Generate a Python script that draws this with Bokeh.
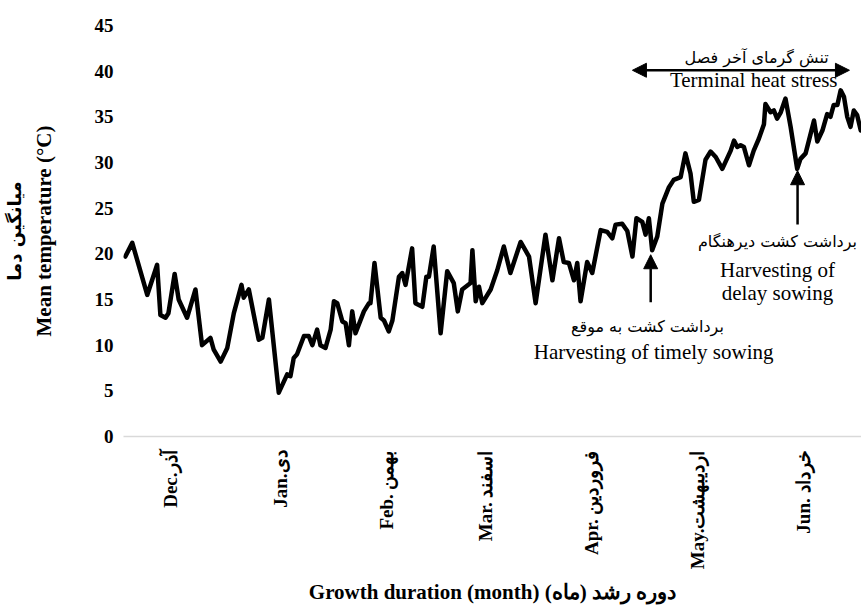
import math
from bokeh.plotting import figure
from bokeh.models import Range1d, FixedTicker, Label, Arrow, NormalHead, LinearAxis
from bokeh.embed import file_html
from bokeh.resources import INLINE

# ---- data ----
day = [0.5, 2.4, 6.5, 9.2, 10.1, 11.5, 12.3, 14.0, 15.1, 17.4, 19.7, 21.5, 23.8, 24.7, 26.6,
       28.4, 30.2, 32.3, 32.9, 34.3, 37.0, 38.0, 39.8, 42.5, 44.8, 45.7, 46.6, 47.5, 49.4, 50.7,
       51.7, 53.0, 53.9, 55.3, 56.7, 57.6, 58.5, 59.9, 60.8, 61.7, 62.6, 63.5, 65.8, 67.2, 67.6,
       68.7, 70.4, 71.3, 72.6, 73.6, 75.4, 76.3, 77.2, 79.0, 79.9, 81.8, 82.9, 83.6, 84.9, 86.8,
       88.6, 90.4, 91.5, 92.7, 95.0, 95.5, 96.4, 97.3, 98.2, 100.5, 102.3, 104.1, 105.9, 108.7,
       111.0, 112.8, 115.5, 117.4, 119.2, 120.5, 121.9, 123.3, 124.2, 125.1, 126.9, 128.3, 130.6,
       132.4, 133.8, 134.7, 136.5, 137.9, 139.3, 140.4, 142.0, 142.9, 143.8, 144.7, 146.1, 147.5,
       149.3, 150.6, 152.5, 153.8, 155.2, 156.1, 157.5, 159.3, 160.7, 162.1, 163.9, 166.2, 167.1,
       168.0, 168.9, 169.8, 171.2, 172.5, 173.9, 175.3, 175.7, 177.1, 178.0, 178.9, 179.9, 181.2,
       182.6, 184.4, 185.3, 186.7, 187.6, 189.0, 189.9, 191.3, 192.6, 193.5, 194.4, 195.4, 196.3,
       197.2, 198.1, 199.0, 199.9, 200.8, 201.8]
temp = [19.7, 21.2, 15.5, 18.8, 13.3, 13.0, 13.5, 17.8, 15.0, 13.0, 16.1, 10.0, 10.8, 9.5, 8.2,
        9.7, 13.5, 16.6, 15.2, 16.1, 10.6, 10.8, 15.0, 4.8, 6.8, 6.6, 8.6, 9.0, 11.0, 11.0,
        10.0, 11.7, 10.0, 9.7, 11.7, 14.8, 14.6, 12.6, 12.4, 10.0, 13.7, 11.3, 13.7, 14.6, 14.6,
        19.0, 13.0, 12.7, 11.5, 12.7, 17.5, 17.9, 16.6, 20.6, 14.6, 14.2, 17.5, 17.5, 20.8, 11.3,
        18.1, 16.8, 13.7, 16.1, 16.8, 20.4, 14.8, 16.4, 14.6, 16.1, 18.2, 20.8, 17.9, 21.3,
        19.7, 14.6, 22.1, 17.1, 21.7, 19.1, 19.0, 17.1, 19.0, 14.8, 19.1, 17.9, 22.6,
        22.4, 21.7, 23.2, 23.3, 22.5, 19.7, 23.9, 23.5, 22.1, 23.9, 20.4, 21.9, 25.5,
        27.3, 28.1, 28.4, 31.0, 28.8, 25.7, 25.9, 30.3, 31.2, 30.6, 29.3, 31.3, 32.4,
        31.7, 31.9, 31.7, 29.7, 31.3, 32.6, 34.2, 36.4, 35.5, 35.7, 34.8, 35.5, 37.0,
        33.9, 29.3, 30.4, 31.0, 32.4, 34.6, 32.3, 33.5, 35.3, 35.0, 36.3, 36.3, 37.9,
        37.2, 35.0, 33.9, 35.7, 35.2, 33.5]

month_ticks = [13, 43, 72, 99, 128, 157, 186]
month_labels = ["Dec.آذر", "Jan.دی", "Feb. بهمن", "Mar. اسفند", "Apr. فروردین",
                "May.اردیبهشت", "Jun. خرداد"]
y_ticks = [0, 5, 10, 15, 20, 25, 30, 35, 40, 45]

timely_harvest = (144.3, 14.7, 19.9)   # day, arrow start, arrow tip
delay_harvest = (184.5, 23.2, 29.1)
heat_span = (139.3, 198.7, 40.1)

SERIF = "Liberation Serif"
PERSIAN = "DejaVu Sans"

p = figure(width=861, height=607, x_range=Range1d(0, 202.0), y_range=Range1d(0, 45),
           output_backend="svg", toolbar_location=None, title=None,
           min_border_left=123, min_border_right=0, min_border_top=25, min_border_bottom=170)
p.outline_line_color = None
p.grid.visible = False
p.background_fill_color = "white"
p.border_fill_color = "white"

p.line(day, temp, line_color="black", line_width=4.5, line_join="round", line_cap="round")

# y axis
ya = p.yaxis[0]
ya.ticker = FixedTicker(ticks=y_ticks)
ya.axis_line_color = None
ya.major_tick_line_color = None
ya.minor_tick_line_color = None
ya.major_tick_out = 0
ya.major_tick_in = 0
ya.major_label_standoff = 10
ya.major_label_text_font = SERIF
ya.major_label_text_font_style = "bold"
ya.major_label_text_font_size = "19px"
ya.major_label_text_color = "black"
ya.axis_label = "Mean temperature (°C)"
ya.axis_label_standoff = 36
ya.axis_label_text_font = SERIF
ya.axis_label_text_font_style = "bold"
ya.axis_label_text_font_size = "21px"
ya.axis_label_text_color = "black"

# outer left axis carrying only the Persian line of the title
ya2 = LinearAxis(ticker=FixedTicker(ticks=[]), axis_line_color=None,
                 major_tick_line_color=None, minor_tick_line_color=None,
                 major_tick_out=0, major_tick_in=0, major_label_standoff=0,
                 axis_label="میانگین دما", axis_label_standoff=4,
                 axis_label_text_font=PERSIAN, axis_label_text_font_style="bold",
                 axis_label_text_font_size="18px", axis_label_text_color="black")
p.add_layout(ya2, "left")

# x axis
xa = p.xaxis[0]
xa.ticker = FixedTicker(ticks=month_ticks)
xa.major_label_overrides = {t: l for t, l in zip(month_ticks, month_labels)}
xa.axis_line_color = "#d9d9d9"
xa.axis_line_width = 1.3
xa.major_tick_line_color = None
xa.minor_tick_line_color = None
xa.major_tick_out = 0
xa.major_tick_in = 0
xa.major_label_orientation = math.pi / 2
xa.major_label_standoff = 14
xa.major_label_text_font = SERIF
xa.major_label_text_font_style = "bold"
xa.major_label_text_font_size = "19px"
xa.major_label_text_color = "black"
xa.axis_label = "Growth duration (month) دوره رشد (ماه)"
xa.axis_label_standoff = 8
xa.axis_label_text_font = SERIF
xa.axis_label_text_font_style = "bold"
xa.axis_label_text_font_size = "21px"
xa.axis_label_text_color = "black"

# arrows
for (xd, y0, y1) in (timely_harvest, delay_harvest):
    p.add_layout(Arrow(x_start=xd, y_start=y0, x_end=xd, y_end=y1, line_width=2.5,
                       line_color="black",
                       end=NormalHead(size=14, fill_color="black", line_color="black")))
p.add_layout(Arrow(x_start=heat_span[0], y_start=heat_span[2], x_end=heat_span[1],
                   y_end=heat_span[2], line_width=2.5, line_color="black",
                   start=NormalHead(size=14, fill_color="black", line_color="black"),
                   end=NormalHead(size=14, fill_color="black", line_color="black")))

# annotation texts
def note(x, y, text, font, size):
    p.add_layout(Label(x=x, y=y, text=text, text_align="center", text_baseline="middle",
                       text_font=font, text_font_size=size, text_color="black"))

note(173.3, 41.5, "تنش گرمای آخر فصل", PERSIAN, "16px")
note(172.5, 39.0, "Terminal heat stress", SERIF, "21px")
note(143.4, 12.0, "برداشت کشت به موقع", PERSIAN, "16px")
note(145.1, 9.3, "Harvesting of timely sowing", SERIF, "21px")
note(179.0, 21.3, "برداشت کشت دیرهنگام", PERSIAN, "16px")
note(179.0, 18.2, "Harvesting of", SERIF, "21px")
note(179.0, 15.7, "delay sowing", SERIF, "21px")

open("out.html", "w").write(file_html(p, INLINE))
